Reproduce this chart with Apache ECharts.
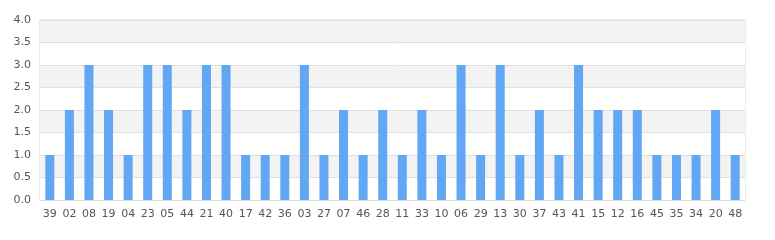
<!DOCTYPE html>
<html><head><meta charset="utf-8">
<script src="https://cdn.jsdelivr.net/npm/echarts@6/dist/echarts.min.js"></script>
<style>html,body{margin:0;padding:0;background:#fff}#c{width:775px;height:240px}</style>
</head><body><div id="c"></div>
<script>
var categories = ['39','02','08','19','04','23','05','44','21','40','17','42','36','03','27','07','46','28','11','33','10','06','29','13','30','37','43','41','15','12','16','45','35','34','20','48'];
var values = [1,2,3,2,1,3,3,2,3,3,1,1,1,3,1,2,1,2,1,2,1,3,1,3,1,2,1,3,2,2,2,1,1,1,2,1];
var chart = echarts.init(document.getElementById('c'), null, {renderer:'canvas'});
chart.setOption({
  animation:false,
  grid:{left:40,right:30,top:20,bottom:40,show:true,borderColor:'#dcdcdc',borderWidth:1,backgroundColor:'transparent'},
  xAxis:{type:'category',data:categories,
    axisLine:{show:true,lineStyle:{color:'#dcdcdc'}},axisTick:{show:false},
    axisLabel:{color:'#555',fontFamily:'DejaVu Sans',fontSize:11,margin:9,interval:0}},
  yAxis:{type:'value',min:0,max:4,interval:0.5,
    axisLine:{show:false},axisTick:{show:false},
    axisLabel:{color:'#555',fontFamily:'DejaVu Sans',fontSize:11,margin:9,formatter:function(v){return v.toFixed(1);}},
    splitLine:{show:true,lineStyle:{color:'#e0e0e0'}},
    splitArea:{show:true,areaStyle:{color:['#ffffff','#f3f3f3']}}},
  series:[{type:'bar',data:values,barWidth:9,itemStyle:{color:'#61a7f4'}}]
});
</script></body></html>
